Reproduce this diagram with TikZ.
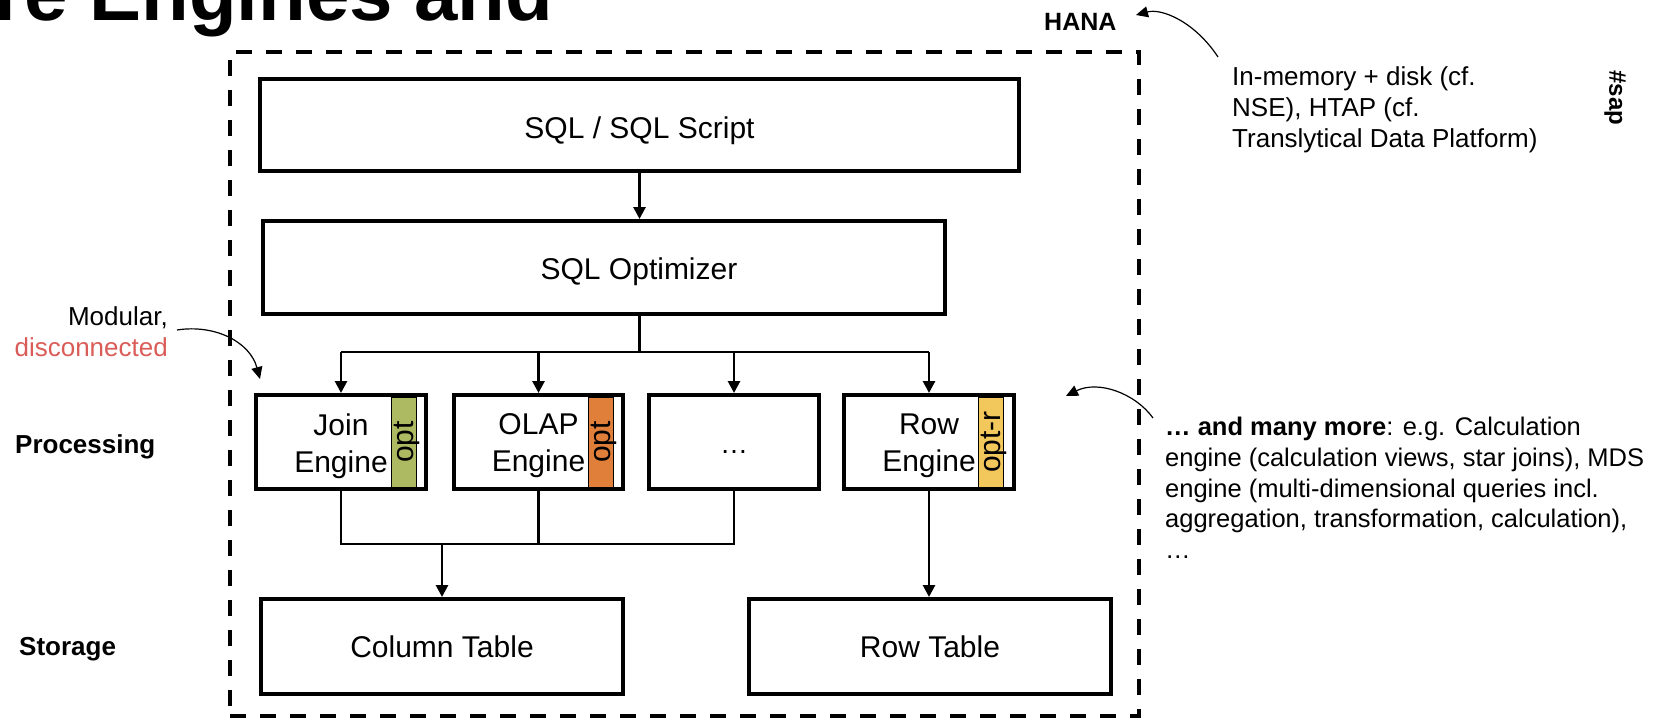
\documentclass[tikz,border=0pt]{standalone}
\usepackage{fontspec}
\setmainfont{Liberation Sans}
\usetikzlibrary{arrows.meta}
\definecolor{optgreen}{RGB}{174,186,98}
\definecolor{optorange}{RGB}{224,127,58}
\definecolor{optyellow}{RGB}{242,200,92}
\definecolor{discred}{RGB}{218,92,88}
\begin{document}
\begin{tikzpicture}[x=1pt,y=-1pt,
  mybox/.style={draw=black, line width=4pt, fill=white, inner sep=0pt},
  boxlabel/.style={inner sep=0pt, align=center, font=\fontsize{30}{37}\selectfont},
  mystrip/.style={draw=black, line width=1pt, inner sep=0pt, minimum width=25pt, minimum height=90pt},
  striptext/.style={rotate=90, anchor=base, inner sep=0pt, font=\fontsize{30}{36}\selectfont},
  conn/.style={line width=2.8pt},
  arr/.style={line width=2.8pt, -{Triangle[width=12pt,length=12pt]}},
  mynote/.style={inner sep=0pt, font=\fontsize{26}{31}\selectfont, align=left},
  notearr/.style={line width=1.2pt, -{Triangle[width=11pt,length=12pt]}},
  hanaframe/.style={draw=black, line width=4pt, dash pattern=on 16pt off 14pt, inner sep=0pt},
  sidelabel/.style={inner sep=0pt, font=\bfseries\fontsize{26}{31}\selectfont, anchor=base west},
]
\useasboundingbox (0,0) rectangle (1665,720);
\clip (0,0) rectangle (1665,720);

% title fragment
\node[inner sep=0pt, anchor=base west, font=\bfseries\fontsize{78}{90}\selectfont] (title) at (-6,20) {re Engines and};

% HANA frame
\node[hanaframe, minimum width=909pt, minimum height=664pt] (frame) at (684.5,384) {};
\node[sidelabel, font=\bfseries\fontsize{25}{30}\selectfont] (hana) at (1044,30) {HANA};

% notes
\node[mynote, anchor=north west] (memnote) at (1232,66) {In-memory + disk (cf.\\NSE), HTAP (cf.\\Translytical Data Platform)};
\node[mynote, font=\fontsize{25.5}{30.75}\selectfont, anchor=north west] (morenote) at (1165,417) {\textbf{… and many more}: e.g. Calculation\\engine (calculation views, star joins), MDS\\engine (multi-dimensional queries incl.\\aggregation, transformation, calculation),\\…};
\node[mynote, align=right, anchor=north east] (modnote) at (168,306) {Modular,\\\textcolor{discred}{disconnected}};
\node[rotate=-90, font=\bfseries\fontsize{24}{28}\selectfont, inner sep=0pt] (sap) at (1615,98) {\#sap};

% side labels
\node[sidelabel] (proc) at (15,453) {Processing};
\node[sidelabel] (stor) at (19,655) {Storage};

% top boxes
\node[mybox, minimum width=759pt, minimum height=92pt] (script) at (639.5,125) {};
\node[boxlabel] (scriptlabel) at (639.5,131) {SQL / SQL Script};
\node[mybox, minimum width=682pt, minimum height=93pt] (opt) at (604,267.5) {};
\node[boxlabel] (optlabel) at (639,272) {SQL Optimizer};

% engines
\node[mybox, minimum width=170pt, minimum height=94pt] (join) at (341,442) {};
\node[boxlabel] (joinlabel) at (341,446) {Join\\Engine};
\node[mystrip, fill=optgreen] (joinstrip) at (403.5,442) {};
\node[striptext] (joinopt) at (413,442) {opt};

\node[mybox, minimum width=169pt, minimum height=94pt] (olap) at (538.5,442) {};
\node[boxlabel] (olaplabel) at (538.5,446) {OLAP\\Engine};
\node[mystrip, fill=optorange] (olapstrip) at (600.5,442) {};
\node[striptext] (olapopt) at (610,442) {opt};

\node[mybox, minimum width=170pt, minimum height=94pt] (dots) at (734,442) {};
\node[boxlabel, font=\fontsize{28}{34}\selectfont] (dotslabel) at (734,452) {…};

\node[mybox, minimum width=170pt, minimum height=94pt] (row) at (929,442) {};
\node[boxlabel] (rowlabel) at (929,446) {Row\\Engine};
\node[mystrip, fill=optyellow] (rowstrip) at (990.5,442) {};
\node[striptext] (rowopt) at (1000,442) {opt-r};

% storage
\node[mybox, minimum width=362pt, minimum height=95pt] (coltab) at (442,646.5) {};
\node[boxlabel] (coltablabel) at (442,646.5) {Column Table};
\node[mybox, minimum width=362pt, minimum height=95pt] (rowtab) at (930,646.5) {};
\node[boxlabel] (rowtablabel) at (930,646.5) {Row Table};

% connectors
\draw[arr] (script.south) -- (script.south |- opt.north);
\coordinate (bus) at (639.5,352);
\draw[conn] (opt.south -| script.south) -- (bus);
\draw[conn] (bus -| join.north) -- (bus -| row.north);
\foreach \n in {join, olap, dots, row} {
  \draw[arr] (bus -| \n.north) -- (\n.north);
}
\coordinate (bus2) at (442,544);
\draw[conn] (join.south) -- (join.south |- bus2) -- (dots.south |- bus2) -- (dots.south);
\draw[conn] (olap.south) -- (olap.south |- bus2);
\draw[arr] (bus2) -- (bus2 |- coltab.north);
\draw[arr] (row.south) -- (row.south |- rowtab.north);

% note arrows
\coordinate (hanaTip) at (1136,15);
\coordinate (memStart) at (1218,57);
\draw[notearr] (memStart) .. controls (1195,22) and (1162,8) .. (hanaTip);
\coordinate (moreStart) at (1153,418);
\coordinate (moreTip) at (1066,396);
\draw[notearr] (moreStart) .. controls (1135,393) and (1098,380) .. (moreTip);
\coordinate (modStart) at (177,330);
\coordinate (modTip) at (260,379);
\draw[notearr] (modStart) .. controls (215,324) and (250,342) .. (modTip);
\end{tikzpicture}
\end{document}
